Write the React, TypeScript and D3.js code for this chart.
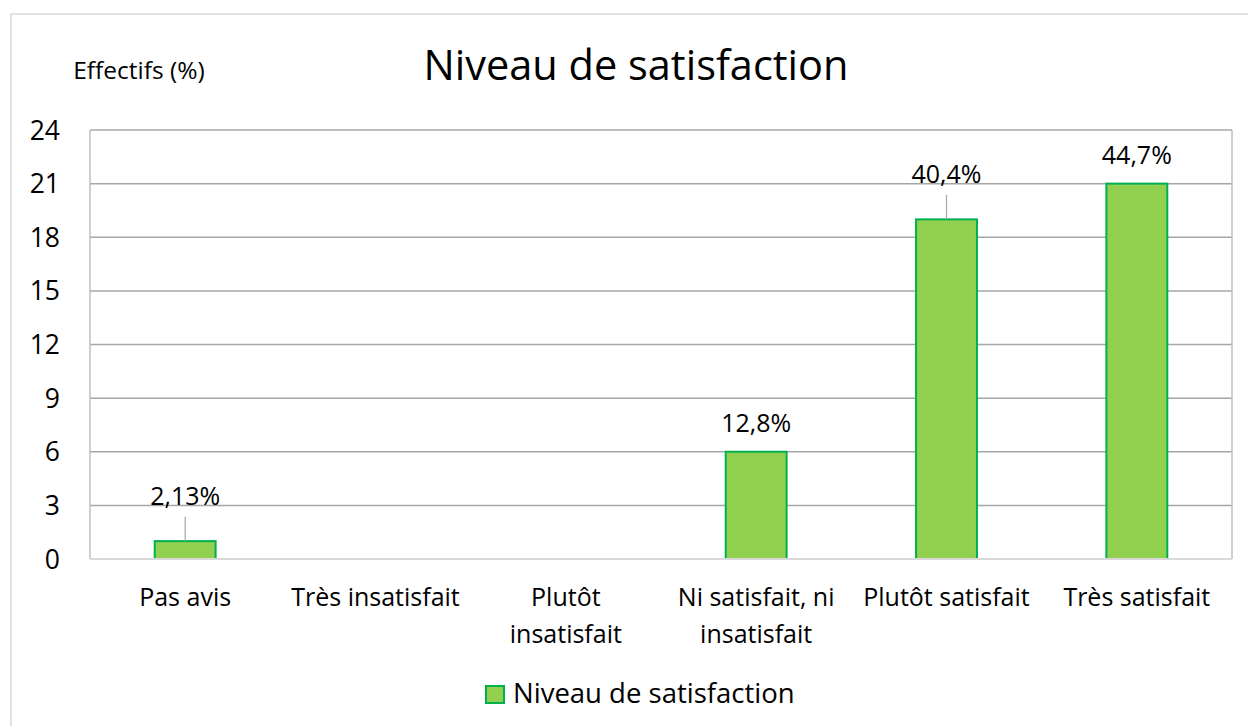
import * as d3 from "d3";

const categories = [
  ["Pas avis"],
  ["Très insatisfait"],
  ["Plutôt", "insatisfait"],
  ["Ni satisfait, ni", "insatisfait"],
  ["Plutôt satisfait"],
  ["Très satisfait"],
];
const values = [1, 0, 0, 6, 19, 21];
const labels = ["2,13%", "", "", "12,8%", "40,4%", "44,7%"];
// labels that were dragged up in the original, with a leader line
const withLeader = [true, false, false, false, true, false];
const yTicks = [0, 3, 6, 9, 12, 15, 18, 21, 24];

const width = 1248;
const height = 726;
const plot = { left: 90, right: 1232, top: 130, bottom: 559 };
const font = "'Open Sans', 'Noto Sans', sans-serif";

export default function App() {
  const keys = categories.map((c) => c.join(" "));
  const x = d3.scaleBand().domain(keys).range([plot.left, plot.right]).padding(0);
  const y = d3.scaleLinear().domain([0, 24]).range([plot.bottom, plot.top]);
  const barW = x.bandwidth() * 0.32;

  return (
    <div style={{ position: "fixed", left: 0, top: 0 }}>
      <svg width={width} height={height} viewBox={`0 0 ${width} ${height}`} style={{ display: "block", background: "#fff" }}>
        {/* chart border, only left/top visible in frame */}
        <rect x={11} y={14} width={1260} height={740} fill="#fff" stroke="#d9d9d9" strokeWidth={1.5} />

        <text x={636} y={80} textAnchor="middle" fontFamily={font} fontSize={41.5} fill="#000">
          Niveau de satisfaction
        </text>
        <text x={139} y={79} textAnchor="middle" fontFamily={font} fontSize={24.5} fill="#000">
          Effectifs (%)
        </text>

        {/* grid */}
        {yTicks.map((t) => (
          <g key={t}>
            {t > 0 && (
              <line x1={plot.left} x2={plot.right} y1={y(t)} y2={y(t)} stroke="#a6a6a6" strokeWidth={1.5} />
            )}
            <text x={60} y={y(t)} dy="0.36em" textAnchor="end" fontFamily={font} fontSize={26.5} fill="#000">
              {t}
            </text>
          </g>
        ))}
        <line x1={plot.left} x2={plot.left} y1={plot.top} y2={plot.bottom} stroke="#bfbfbf" strokeWidth={1.5} />
        <line x1={plot.right} x2={plot.right} y1={plot.top} y2={plot.bottom} stroke="#bfbfbf" strokeWidth={1.5} />
        <line x1={plot.left} x2={plot.right} y1={plot.top} y2={plot.top} stroke="#bfbfbf" strokeWidth={1.5} />

        {/* bars */}
        {values.map((v, i) =>
          v > 0 ? (
            <rect
              key={i}
              x={(x(keys[i]) ?? 0) + x.bandwidth() / 2 - barW / 2}
              y={y(v)}
              width={barW}
              height={y(0) - y(v)}
              fill="#92d050"
              stroke="#00b050"
              strokeWidth={2}
            />
          ) : null
        )}
        <line x1={plot.left} x2={plot.right} y1={y(0)} y2={y(0)} stroke="#d9d9d9" strokeWidth={2} />

        {/* data labels */}
        {values.map((v, i) => {
          if (!labels[i]) return null;
          const cx = (x(keys[i]) ?? 0) + x.bandwidth() / 2;
          const lift = withLeader[i] ? 36.5 : 19.5;
          const by = y(v) - lift;
          return (
            <g key={i}>
              {withLeader[i] && <line x1={cx} x2={cx} y1={by + 12} y2={y(v)} stroke="#a6a6a6" strokeWidth={1.2} />}
              <text x={cx} y={by} textAnchor="middle" fontFamily={font} fontSize={25} fill="#000">
                {labels[i]}
              </text>
            </g>
          );
        })}

        {/* category labels */}
        {categories.map((lines, i) => (
          <text key={i} x={(x(keys[i]) ?? 0) + x.bandwidth() / 2} y={606} textAnchor="middle" fontFamily={font} fontSize={25} fill="#000">
            {lines.map((l, j) => (
              <tspan key={j} x={(x(keys[i]) ?? 0) + x.bandwidth() / 2} dy={j === 0 ? 0 : 37}>
                {l}
              </tspan>
            ))}
          </text>
        ))}

        {/* legend */}
        <rect x={486} y={686} width={18} height={17} fill="#92d050" stroke="#00b050" strokeWidth={2} />
        <text x={513} y={703} fontFamily={font} fontSize={27.5} fill="#000">
          Niveau de satisfaction
        </text>
      </svg>
    </div>
  );
}
